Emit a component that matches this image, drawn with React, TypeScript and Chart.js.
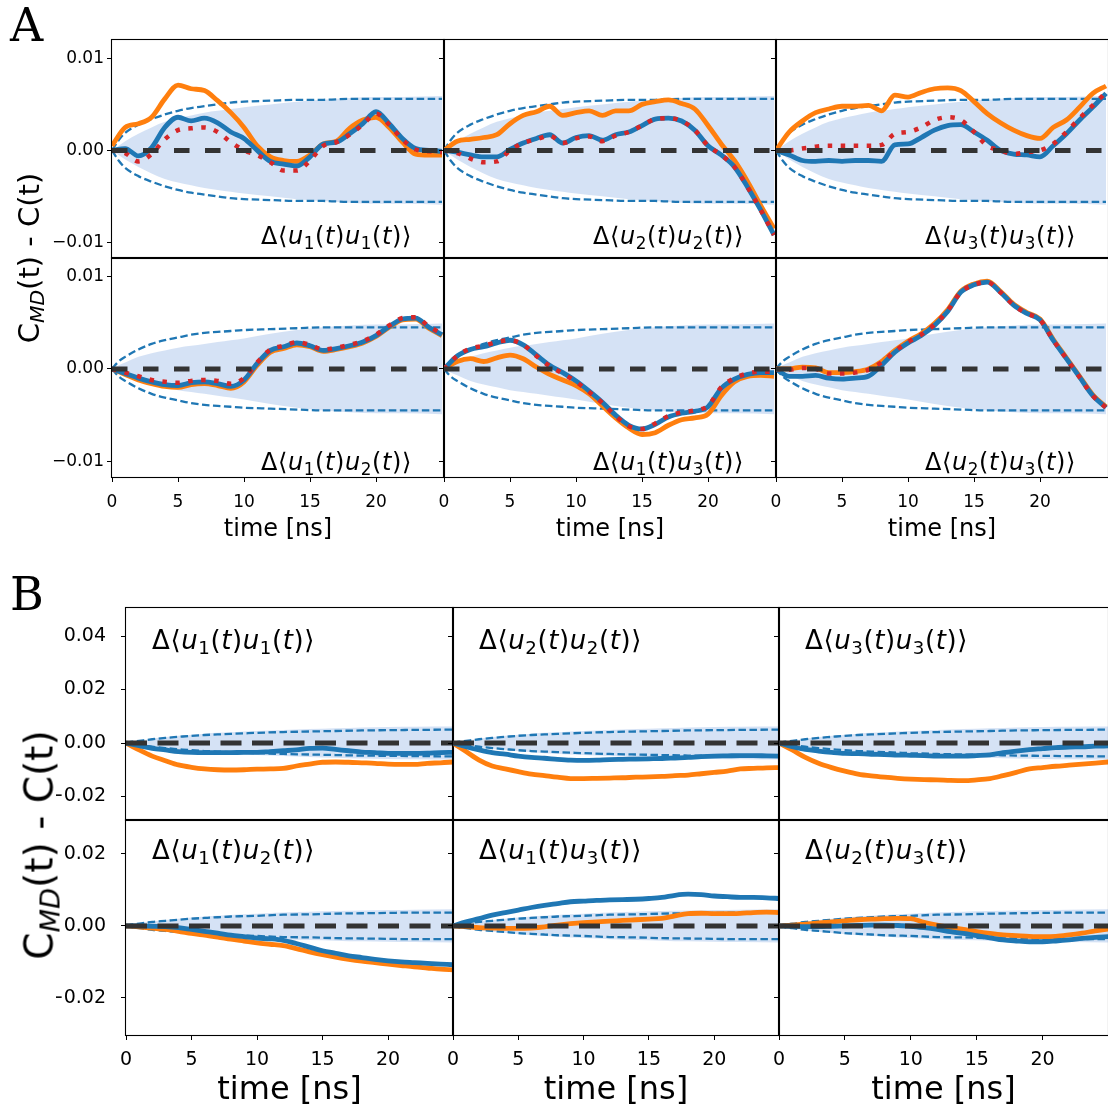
import React, { useEffect, useRef } from "react";
import { Chart, registerables } from "chart.js";

Chart.register(...registerables);

// ---------------- data ----------------
const TIME = [0, 1, 2, 3, 4, 5, 6, 7, 8, 9, 10, 11, 12, 13, 14, 15, 16, 17, 18, 19, 20, 21, 22, 23, 24, 25];
const SIGMA_T = [0, 0.5, 1, 2, 3, 4, 5, 6, 7, 8, 9, 10, 12, 14, 16, 18, 20, 22, 25];

const X_TICKS = [0, 5, 10, 15, 20];
const A_Y_TICKS = [-0.01, 0, 0.01];
const B1_Y_TICKS = [-0.02, 0, 0.02, 0.04];
const B2_Y_TICKS = [-0.02, 0, 0.02];

// statistical envelopes (dashed) and shaded bands, half-widths on SIGMA_T
const SIGMA_A1 = [0, 0.0011, 0.0019, 0.0028, 0.0034, 0.0039, 0.0043, 0.0046, 0.0048, 0.005, 0.0052, 0.0053, 0.0054, 0.0055, 0.0055, 0.0056, 0.0056, 0.0056, 0.0056];
const BAND_A1 = [0, 0.0005, 0.001, 0.0018, 0.0025, 0.0031, 0.0035, 0.0038, 0.0041, 0.0043, 0.0045, 0.0047, 0.005, 0.0053, 0.0055, 0.0057, 0.0058, 0.0058, 0.0059];
const SIGMA_A2 = [0, 0.0008, 0.0013, 0.0021, 0.0027, 0.0031, 0.0034, 0.0037, 0.0039, 0.004, 0.0041, 0.0042, 0.0043, 0.0044, 0.0045, 0.0045, 0.0045, 0.0045, 0.0045];
const BAND_A2 = [0, 0.0004, 0.0007, 0.0013, 0.0017, 0.002, 0.0023, 0.0025, 0.0027, 0.0029, 0.0031, 0.0033, 0.0038, 0.0042, 0.0045, 0.0047, 0.0048, 0.0048, 0.0049];
const SIGMA_B1 = [0, 0.0005, 0.0008, 0.0014, 0.0019, 0.0023, 0.0027, 0.003, 0.0032, 0.0034, 0.0036, 0.0038, 0.0041, 0.0043, 0.0045, 0.0047, 0.0048, 0.0049, 0.005];
const BAND_B1 = [0, 0.0005, 0.0009, 0.0016, 0.0022, 0.0027, 0.0031, 0.0035, 0.0038, 0.004, 0.0043, 0.0045, 0.0049, 0.0052, 0.0055, 0.0058, 0.006, 0.0061, 0.0062];
const SIGMA_B2 = [0, 0.0004, 0.0006, 0.0011, 0.0014, 0.0017, 0.002, 0.0022, 0.0024, 0.0026, 0.0027, 0.0028, 0.0031, 0.0032, 0.0034, 0.0035, 0.0036, 0.0037, 0.0037];
const BAND_B2 = [0, 0.0004, 0.0007, 0.0012, 0.0016, 0.002, 0.0023, 0.0026, 0.0028, 0.003, 0.0032, 0.0034, 0.0037, 0.0039, 0.0041, 0.0043, 0.0044, 0.0045, 0.0046];

// Panel A series (orange, blue, red dotted)
const A11_ORANGE = [0.0005, 0.0025, 0.0029, 0.0036, 0.0056, 0.0071, 0.0067, 0.0065, 0.0054, 0.0041, 0.0025, 0.0005, -0.0007, -0.0011, -0.0012, -0.0005, 0.0007, 0.001, 0.0024, 0.0033, 0.0036, 0.0025, 0.0009, -0.0004, -0.0005, -0.0005];
const A11_BLUE = [0, 0.0002, -0.0006, 0.0003, 0.0025, 0.0036, 0.0032, 0.0035, 0.003, 0.002, 0.0013, 0, -0.0012, -0.0015, -0.0017, -0.0007, 0.0007, 0.0009, 0.0018, 0.0029, 0.0042, 0.0029, 0.0013, 0.0002, 0, -0.0001];
const A11_RED = [0, -0.0003, -0.0012, -0.0004, 0.0012, 0.0022, 0.0024, 0.0025, 0.002, 0.0009, 0, -0.0005, -0.0013, -0.0022, -0.0022, -0.0011, 0.0005, 0.0009, 0.0017, 0.0028, 0.004, 0.0028, 0.0012, 0.0001, -0.0001, -0.0002];

const A22_ORANGE = [0, 0.001, 0.0012, 0.0014, 0.0017, 0.0029, 0.0038, 0.0042, 0.0048, 0.0038, 0.0041, 0.0043, 0.0038, 0.0043, 0.0043, 0.005, 0.0053, 0.0055, 0.0051, 0.0045, 0.0027, 0.0007, -0.0011, -0.0034, -0.006, -0.0085];
const A22_BLUE = [0, -0.0002, -0.0005, -0.0007, -0.0007, 0.0001, 0.0008, 0.0013, 0.0017, 0.0008, 0.0014, 0.0016, 0.0011, 0.0017, 0.002, 0.0027, 0.0034, 0.0035, 0.0032, 0.0022, 0.0005, -0.0005, -0.0018, -0.004, -0.0065, -0.0092];
const A22_RED = [0, -0.0003, -0.0009, -0.0013, -0.0012, 0, 0.0008, 0.0012, 0.0016, 0.0008, 0.0013, 0.0015, 0.001, 0.0016, 0.002, 0.0027, 0.0034, 0.0035, 0.0032, 0.0022, 0.0005, -0.0005, -0.0018, -0.004, -0.0065, -0.0092];

const A33_ORANGE = [0, 0.002, 0.0032, 0.0041, 0.0045, 0.0048, 0.0048, 0.0049, 0.0043, 0.006, 0.0058, 0.0063, 0.0067, 0.0068, 0.0065, 0.0053, 0.004, 0.003, 0.0022, 0.0016, 0.0013, 0.0025, 0.0033, 0.0047, 0.0062, 0.007];
const A33_BLUE = [0, -0.0005, -0.0011, -0.0012, -0.0011, -0.0012, -0.0011, -0.0011, -0.0012, 0.0006, 0.0007, 0.0014, 0.0022, 0.0027, 0.0028, 0.002, 0.0011, 0, -0.0004, -0.0005, -0.0007, 0.0005, 0.0018, 0.0033, 0.0047, 0.0062];
const A33_RED = [0, 0, 0.0002, 0.0004, 0.0005, 0.0005, 0.0005, 0.0005, 0.0006, 0.0018, 0.002, 0.0025, 0.0033, 0.0036, 0.0033, 0.002, 0.0005, 0, -0.0004, -0.0002, 0, 0.0007, 0.002, 0.0035, 0.0049, 0.0063];

const A12_ORANGE = [0, -0.0006, -0.0012, -0.0016, -0.0019, -0.002, -0.0017, -0.0016, -0.0018, -0.0021, -0.0014, 0.0004, 0.0018, 0.0022, 0.0026, 0.0024, 0.0019, 0.0021, 0.0024, 0.0028, 0.0035, 0.0045, 0.0053, 0.0054, 0.0044, 0.0036];
const A12_BLUE = [0, -0.0005, -0.001, -0.0014, -0.0017, -0.0018, -0.0015, -0.0014, -0.0016, -0.0019, -0.0012, 0.0006, 0.002, 0.0024, 0.0028, 0.0025, 0.002, 0.0022, 0.0025, 0.0029, 0.0036, 0.0046, 0.0054, 0.0055, 0.0045, 0.0037];
const A12_RED = [0, -0.0004, -0.0008, -0.0012, -0.0014, -0.0015, -0.0013, -0.0012, -0.0013, -0.0016, -0.001, 0.0007, 0.0021, 0.0025, 0.0029, 0.0026, 0.0021, 0.0023, 0.0026, 0.003, 0.0037, 0.0047, 0.0055, 0.0056, 0.0046, 0.0038];

const A13_ORANGE = [0, 0.0008, 0.0011, 0.0008, 0.0012, 0.0015, 0.0011, 0.0002, -0.0006, -0.0012, -0.0018, -0.0027, -0.004, -0.0053, -0.0064, -0.0071, -0.0069, -0.0061, -0.0055, -0.0053, -0.0049, -0.0029, -0.0014, -0.0008, -0.0007, -0.0008];
const A13_BLUE = [0, 0.0014, 0.0021, 0.0024, 0.0028, 0.0031, 0.0026, 0.0015, 0.0004, -0.0004, -0.0013, -0.0024, -0.0036, -0.005, -0.0061, -0.0065, -0.006, -0.0052, -0.0048, -0.0046, -0.0041, -0.0021, -0.0011, -0.0006, -0.0004, -0.0004];
const A13_RED = [0, 0.0014, 0.0022, 0.0025, 0.0029, 0.0031, 0.0026, 0.0014, 0.0003, -0.0005, -0.0014, -0.0025, -0.0037, -0.0051, -0.0062, -0.0065, -0.0059, -0.0051, -0.0047, -0.0045, -0.004, -0.002, -0.001, -0.0005, -0.0003, -0.0003];

const A23_ORANGE = [0, 0, 0.0002, 0.0001, -0.0004, -0.0004, -0.0003, 0, 0.0008, 0.002, 0.003, 0.0038, 0.0049, 0.0064, 0.0084, 0.0092, 0.0095, 0.0084, 0.007, 0.0061, 0.0054, 0.0032, 0.0012, -0.0008, -0.0028, -0.0041];
const A23_BLUE = [0, -0.0008, -0.0008, -0.0007, -0.001, -0.0011, -0.001, -0.0008, 0.0004, 0.0018, 0.0028, 0.0036, 0.0047, 0.0062, 0.0083, 0.0091, 0.0094, 0.0083, 0.0069, 0.006, 0.0053, 0.0031, 0.0011, -0.0009, -0.0029, -0.0042];
const A23_RED = [0, -0.0001, 0.0001, 0, -0.0005, -0.0005, -0.0004, -0.0001, 0.0007, 0.0019, 0.0029, 0.0037, 0.0048, 0.0063, 0.0083, 0.0091, 0.0094, 0.0083, 0.0069, 0.006, 0.0053, 0.0031, 0.0011, -0.0009, -0.0029, -0.0042];

// Panel B series (orange, blue)
const B11_ORANGE = [0, -0.0026, -0.0049, -0.0066, -0.0082, -0.0091, -0.0097, -0.01, -0.0101, -0.01, -0.0098, -0.0097, -0.0095, -0.0086, -0.0079, -0.0072, -0.0071, -0.0072, -0.0074, -0.0076, -0.0079, -0.008, -0.008, -0.0076, -0.0074, -0.0071];
const B11_BLUE = [0, -0.001, -0.002, -0.0026, -0.0032, -0.0035, -0.0036, -0.0036, -0.0036, -0.0035, -0.0035, -0.0032, -0.0029, -0.0026, -0.002, -0.0019, -0.0024, -0.0029, -0.0034, -0.0036, -0.0039, -0.0039, -0.0039, -0.0038, -0.0036, -0.0035];
const B22_ORANGE = [0, -0.0032, -0.0064, -0.0086, -0.0097, -0.0107, -0.0116, -0.0122, -0.0128, -0.0133, -0.0133, -0.0132, -0.0131, -0.013, -0.0128, -0.0127, -0.0125, -0.0122, -0.012, -0.0115, -0.011, -0.0105, -0.0097, -0.0095, -0.0093, -0.0092];
const B22_BLUE = [0, -0.0014, -0.0026, -0.0036, -0.0042, -0.0049, -0.0054, -0.0057, -0.0061, -0.0064, -0.0065, -0.0064, -0.0062, -0.0061, -0.006, -0.0059, -0.0058, -0.0056, -0.0054, -0.0051, -0.0049, -0.0048, -0.0047, -0.0047, -0.0048, -0.0049];
const B33_ORANGE = [0, -0.0026, -0.0054, -0.0076, -0.0092, -0.0105, -0.0116, -0.0123, -0.0128, -0.0132, -0.0135, -0.0137, -0.0138, -0.014, -0.0141, -0.0138, -0.0133, -0.0122, -0.011, -0.0097, -0.0092, -0.0087, -0.0083, -0.0079, -0.0075, -0.0071];
const B33_BLUE = [0, -0.0014, -0.0024, -0.003, -0.0035, -0.0039, -0.004, -0.0042, -0.0043, -0.0045, -0.0046, -0.0047, -0.0049, -0.0049, -0.0049, -0.0047, -0.0044, -0.0036, -0.003, -0.0025, -0.0021, -0.0017, -0.0015, -0.0014, -0.0012, -0.0011];
const B12_ORANGE = [0, -0.0003, -0.0006, -0.001, -0.0015, -0.0021, -0.0026, -0.0031, -0.0037, -0.0042, -0.0047, -0.0051, -0.0055, -0.0063, -0.0072, -0.008, -0.0087, -0.0093, -0.0098, -0.0102, -0.0106, -0.011, -0.0114, -0.0117, -0.012, -0.0122];
const B12_BLUE = [0, 0, -0.0001, -0.0002, -0.0005, -0.001, -0.0015, -0.002, -0.0026, -0.003, -0.0034, -0.0036, -0.004, -0.0049, -0.0059, -0.0069, -0.0076, -0.0083, -0.0088, -0.0093, -0.0097, -0.01, -0.0102, -0.0104, -0.0106, -0.0108];
const B13_ORANGE = [0, -0.0002, -0.0005, -0.0006, -0.0007, -0.0007, -0.0006, -0.0003, 0.0002, 0.0006, 0.0009, 0.0011, 0.0013, 0.0015, 0.0017, 0.0019, 0.0021, 0.0028, 0.0034, 0.0035, 0.0034, 0.0034, 0.0035, 0.0037, 0.0038, 0.0037];
const B13_BLUE = [0, 0.0011, 0.002, 0.003, 0.0037, 0.0044, 0.0051, 0.0057, 0.0062, 0.0067, 0.0069, 0.0071, 0.0072, 0.0073, 0.0074, 0.0076, 0.0079, 0.0085, 0.0088, 0.0087, 0.0083, 0.0081, 0.0079, 0.0079, 0.0078, 0.0076];
const B23_ORANGE = [0, 0.0002, 0.0005, 0.0008, 0.0011, 0.0014, 0.0017, 0.0019, 0.002, 0.0021, 0.002, 0.001, 0.0002, -0.0004, -0.001, -0.0016, -0.0021, -0.0025, -0.0027, -0.0029, -0.003, -0.0029, -0.0025, -0.002, -0.0014, -0.0009];
const B23_BLUE = [0, -0.0001, -0.0002, -0.0002, -0.0001, 0, 0.0001, 0.0002, 0.0002, 0.0001, -0.0001, -0.0005, -0.001, -0.0016, -0.0021, -0.0027, -0.0033, -0.0039, -0.0042, -0.0044, -0.0044, -0.0042, -0.0039, -0.0035, -0.0032, -0.003];

// label index pairs for Δ⟨u_i(t)u_j(t)⟩
const PAIRS: [number, number][] = [[1, 1], [2, 2], [3, 3], [1, 2], [1, 3], [2, 3]];

// ---------------- layout ----------------
const W = 1108;
const H = 1109;
const A_COLS = [112, 444, 776, 1108];
const A_ROWS = [40, 258, 477];
const B_COLS = [126, 453, 779, 1108];
const B_ROWS = [608, 820, 1035];

const ORANGE = "#ff7f0e";
const BLUE = "#1f77b4";
const RED = "#d62728";
const BAND_COLOR = "rgba(31,100,200,0.19)";

type Panel = {
  rect: [number, number, number, number];
  xMax: number;
  yMin: number;
  yMax: number;
  yTicks: number[];
  showYLabels: boolean;
  showX: boolean;
  tickFont: number;
  titleFont: number;
  titleCenter: number;
  tickPad: number;
  yTickPad: number;
  zeroDash: number[];
  orange: number[];
  blue: number[];
  red?: number[];
  sigma: number[];
  band: number[];
};

const A_SERIES = [
  [A11_ORANGE, A11_BLUE, A11_RED],
  [A22_ORANGE, A22_BLUE, A22_RED],
  [A33_ORANGE, A33_BLUE, A33_RED],
  [A12_ORANGE, A12_BLUE, A12_RED],
  [A13_ORANGE, A13_BLUE, A13_RED],
  [A23_ORANGE, A23_BLUE, A23_RED],
];
const B_SERIES = [
  [B11_ORANGE, B11_BLUE],
  [B22_ORANGE, B22_BLUE],
  [B33_ORANGE, B33_BLUE],
  [B12_ORANGE, B12_BLUE],
  [B13_ORANGE, B13_BLUE],
  [B23_ORANGE, B23_BLUE],
];

const PANELS: Panel[] = [];
for (let i = 0; i < 6; i++) {
  const row = Math.floor(i / 3);
  const col = i % 3;
  PANELS.push({
    rect: [A_COLS[col], A_ROWS[row], A_COLS[col + 1], A_ROWS[row + 1]],
    xMax: 25.15,
    yMin: -0.0117,
    yMax: 0.012,
    yTicks: A_Y_TICKS,
    showYLabels: col === 0,
    showX: row === 1,
    tickFont: 17,
    titleFont: 24,
    titleCenter: 530,
    tickPad: 10,
    yTickPad: 3,
    zeroDash: [15.5, 15.5],
    orange: A_SERIES[i][0],
    blue: A_SERIES[i][1],
    red: A_SERIES[i][2],
    sigma: row === 0 ? SIGMA_A1 : SIGMA_A2,
    band: row === 0 ? BAND_A1 : BAND_A2,
  });
}
for (let i = 0; i < 6; i++) {
  const row = Math.floor(i / 3);
  const col = i % 3;
  PANELS.push({
    rect: [B_COLS[col], B_ROWS[row], B_COLS[col + 1], B_ROWS[row + 1]],
    xMax: 24.96,
    yMin: row === 0 ? -0.0288 : -0.0303,
    yMax: row === 0 ? 0.0505 : 0.0294,
    yTicks: row === 0 ? B1_Y_TICKS : B2_Y_TICKS,
    showYLabels: col === 0,
    showX: row === 1,
    tickFont: 19,
    titleFont: 32,
    titleCenter: 1091,
    tickPad: 9,
    yTickPad: 15,
    zeroDash: [21, 10.5],
    orange: B_SERIES[i][0],
    blue: B_SERIES[i][1],
    sigma: row === 0 ? SIGMA_B1 : SIGMA_B2,
    band: row === 0 ? BAND_B1 : BAND_B2,
  });
}

const pts = (xs: number[], ys: number[]) => xs.map((x, i) => ({ x, y: ys[i] }));
const fmt = (v: number) => (Math.abs(v) < 1e-9 ? "0.00" : (v < 0 ? "\u2212" : "") + Math.abs(v).toFixed(2));

const framePlugin = {
  id: "frame",
  afterDraw(chart: any) {
    const { ctx, chartArea } = chart;
    const { left, top, right, bottom } = chartArea;
    ctx.save();
    ctx.strokeStyle = "#000";
    ctx.lineWidth = 1.1;
    ctx.strokeRect(left - 0.5, top - 0.5, right - left + 1, bottom - top + 1);
    ctx.restore();
  },
};

function buildConfig(p: Panel): any {
  const [l, t, r, b] = p.rect;
  const yW = 70;
  const xH = p.showX ? 74 : 0;
  const tickLen = 5;
  const lh = p.titleFont * 1.2;
  const titlePadBottom = xH - lh / 2 - (p.titleCenter - b);
  const line = (data: any[], color: string, width: number, dash: number[] = []) => ({
    data,
    borderColor: color,
    backgroundColor: color,
    borderWidth: width,
    borderDash: dash,
    pointRadius: 0,
    fill: false,
  });
  const datasets: any[] = [];
  datasets.push(line([{ x: 0, y: 0 }, { x: p.xMax, y: 0 }], "#333333", 5, p.zeroDash));
  if (p.red) datasets.push(line(pts(TIME, p.red), RED, 4.5, [4.5, 8.5]));
  datasets.push(line(pts(TIME, p.blue), BLUE, 4.8));
  datasets.push(line(pts(TIME, p.orange), ORANGE, 4.8));
  datasets.push(line(pts(SIGMA_T, p.sigma), BLUE, 2.3, [7.5, 3.5]));
  datasets.push(line(pts(SIGMA_T, p.sigma.map((v) => -v)), BLUE, 2.3, [7.5, 3.5]));
  datasets.push({
    data: pts(SIGMA_T, p.band),
    borderWidth: 0,
    borderColor: "rgba(0,0,0,0)",
    backgroundColor: BAND_COLOR,
    pointRadius: 0,
    fill: "+1",
  });
  datasets.push({
    data: pts(SIGMA_T, p.band.map((v) => -v)),
    borderWidth: 0,
    borderColor: "rgba(0,0,0,0)",
    pointRadius: 0,
    fill: false,
  });

  return {
    type: "line",
    data: { datasets },
    plugins: [framePlugin],
    options: {
      responsive: false,
      animation: false,
      events: [],
      layout: { padding: { left: l - yW, top: t, right: W - r, bottom: H - b - xH } },
      elements: { line: { cubicInterpolationMode: "monotone", borderCapStyle: "butt" }, point: { radius: 0 } },
      plugins: { legend: { display: false }, tooltip: { enabled: false }, title: { display: false } },
      scales: {
        x: {
          type: "linear",
          min: 0,
          max: p.xMax,
          display: p.showX,
          afterBuildTicks: (s: any) => {
            s.ticks = X_TICKS.map((v) => ({ value: v }));
          },
          afterFit: (s: any) => {
            s.height = xH;
            s.paddingLeft = 0;
            s.paddingRight = 0;
          },
          border: { display: false },
          grid: { display: true, drawOnChartArea: false, drawTicks: true, tickLength: tickLen, color: "#000", lineWidth: 1 },
          ticks: {
            color: "#000",
            font: { family: "DejaVu Sans", size: p.tickFont },
            padding: p.tickPad,
            maxRotation: 0,
            autoSkip: false,
            callback: (v: any) => String(v),
          },
          title: {
            display: p.showX,
            text: "time [ns]",
            color: "#000",
            font: { family: "DejaVu Sans", size: p.titleFont },
            padding: { top: 0, bottom: titlePadBottom },
          },
        },
        y: {
          type: "linear",
          min: p.yMin,
          max: p.yMax,
          afterBuildTicks: (s: any) => {
            s.ticks = p.yTicks.map((v) => ({ value: v }));
          },
          afterFit: (s: any) => {
            s.width = yW;
            s.paddingTop = 0;
            s.paddingBottom = 0;
          },
          border: { display: false },
          grid: { display: true, drawOnChartArea: false, drawTicks: true, tickLength: tickLen, color: "#000", lineWidth: 1 },
          ticks: {
            display: p.showYLabels,
            color: "#000",
            font: { family: "DejaVu Sans", size: p.tickFont },
            padding: p.yTickPad,
            callback: (v: any) => fmt(Number(v)),
          },
        },
      },
    },
  };
}

function MathLabel({ a, b, size }: { a: number; b: number; size: number }) {
  const sub: React.CSSProperties = { fontSize: "70%", verticalAlign: "-0.28em", lineHeight: 0 };
  return (
    <span style={{ fontSize: size, letterSpacing: "0.6px" }}>
      Δ⟨<i>u</i>
      <sub style={sub}>{a}</sub>(<i>t</i>)<i>u</i>
      <sub style={sub}>{b}</sub>(<i>t</i>)⟩
    </span>
  );
}

function YLabel({ x, y, size }: { x: number; y: number; size: number }) {
  return (
    <div
      style={{
        position: "absolute",
        left: x,
        top: y,
        transform: "translate(-50%, -50%) rotate(-90deg)",
        whiteSpace: "nowrap",
        fontSize: size,
        lineHeight: 1,
      }}
    >
      C<sub style={{ fontSize: "70%", verticalAlign: "-0.25em", lineHeight: 0, fontStyle: "italic" }}>MD</sub>(t) - C(t)
    </div>
  );
}

export default function App() {
  const refs = useRef<(HTMLCanvasElement | null)[]>([]);
  useEffect(() => {
    const charts = PANELS.map((p, i) => new Chart(refs.current[i] as HTMLCanvasElement, buildConfig(p)));
    return () => charts.forEach((c) => c.destroy());
  }, []);

  const textBase: React.CSSProperties = { position: "absolute", whiteSpace: "nowrap", lineHeight: 1 };

  return (
    <div
      style={{
        position: "absolute",
        left: 0,
        top: 0,
        width: W,
        height: H,
        background: "#fff",
        fontFamily: "'DejaVu Sans', sans-serif",
        color: "#000",
        overflow: "hidden",
      }}
    >
      {PANELS.map((_, i) => (
        <canvas
          key={i}
          ref={(el) => {
            refs.current[i] = el;
          }}
          width={W}
          height={H}
          style={{ position: "absolute", left: 0, top: 0 }}
        />
      ))}
      <div style={{ ...textBase, left: 10, top: 2, fontSize: 46, fontFamily: "'DejaVu Serif', serif" }}>A</div>
      <div style={{ ...textBase, left: 10, top: 571, fontSize: 46, fontFamily: "'DejaVu Serif', serif" }}>B</div>
      <YLabel x={29} y={258} size={29} />
      <YLabel x={39} y={845} size={39} />
      {PAIRS.map(([a, b], i) => {
        const row = Math.floor(i / 3);
        const col = i % 3;
        return (
          <div
            key={"a" + i}
            style={{
              ...textBase,
              left: A_COLS[col + 1] - 32,
              top: row === 0 ? 236 : 462,
              transform: "translate(-100%, -50%)",
            }}
          >
            <MathLabel a={a} b={b} size={24} />
          </div>
        );
      })}
      {PAIRS.map(([a, b], i) => {
        const row = Math.floor(i / 3);
        const col = i % 3;
        return (
          <div
            key={"b" + i}
            style={{
              ...textBase,
              left: B_COLS[col] + 26,
              top: row === 0 ? 640 : 850,
              transform: "translate(0, -50%)",
            }}
          >
            <MathLabel a={a} b={b} size={26} />
          </div>
        );
      })}
    </div>
  );
}
